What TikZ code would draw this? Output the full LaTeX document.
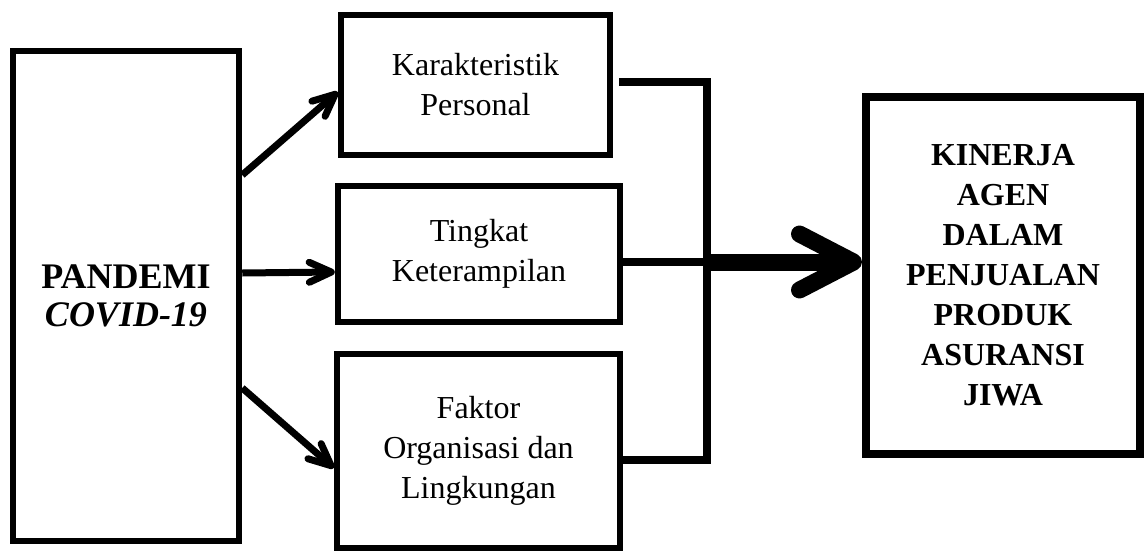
\documentclass[tikz,border=0pt]{standalone}
\usepackage{fontspec}
\setmainfont{Liberation Serif}
\usetikzlibrary{arrows.meta,positioning,calc}

\begin{document}
\begin{tikzpicture}[x=0.5pt,y=-0.5pt,
    box/.style={draw,line width=3.25pt,align=center,inner sep=0pt,font=\fontsize{16pt}{20pt}\selectfont},
    link/.style={line width=3.5pt,-{Straight Barb[length=11pt,width=10pt,round]}},
    bracket/.style={line width=3.75pt},
    bigarrow/.style={line width=8.5pt,-{Straight Barb[length=27pt,width=28pt,round]}}]
  \useasboundingbox (0,0) rectangle (1144,551);

  % kotak kiri
  \node[box,minimum width=113pt,minimum height=245pt,font=\fontsize{18pt}{19pt}\selectfont\bfseries] (pandemi) at (126,296) {PANDEMI\\\textit{COVID-19}};

  % tiga kotak tengah
  \node[box,minimum width=134.5pt,minimum height=70pt] (karakter) at (475.5,85) {Karakteristik\\Personal};
  \node[box,minimum width=141pt,minimum height=68pt] (tingkat) at (479,254) {Tingkat\\Keterampilan};
  \node[box,minimum width=141.5pt,minimum height=97pt] (faktor) at (478.5,451) {Faktor\\Organisasi dan\\Lingkungan};

  % kotak kanan
  \node[box,line width=4pt,minimum width=137pt,minimum height=178.5pt,font=\fontsize{16pt}{20pt}\selectfont\bfseries] (kinerja) at (1003,275.5) {KINERJA\\AGEN\\DALAM\\PENJUALAN\\PRODUK\\ASURANSI\\JIWA};

  \coordinate (join) at (707,262);

  % panah dari pandemi
  \draw[link] (pandemi.east |- 0,175) -- (karakter.west |- 0,92);
  \draw[link] (pandemi.east |- 0,273) -- (tingkat.west |- 0,272);
  \draw[link] (pandemi.east |- 0,388) -- (faktor.west |- 0,468);

  % kurung gabungan
  \draw[bracket] ([xshift=3pt]karakter.east |- 0,82) -| (join) |- (faktor.east |- 0,460);
  \draw[bracket] (tingkat.east |- join) -- (join);
  \draw[bigarrow] (join) -- (join -| kinerja.west);
\end{tikzpicture}
\end{document}
